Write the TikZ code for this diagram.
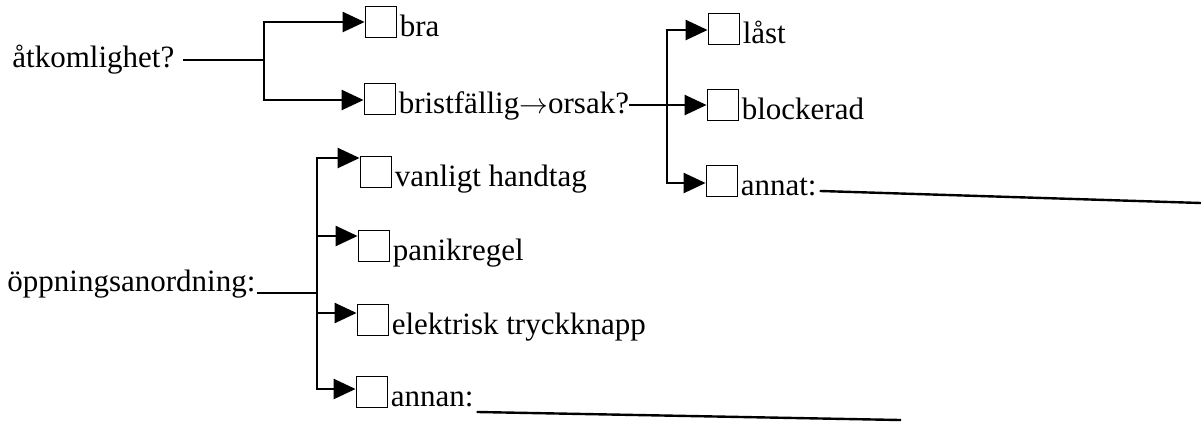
\documentclass[tikz,border=0pt]{standalone}
\usepackage{fontspec}
\setmainfont{Liberation Serif}
\usetikzlibrary{arrows.meta, positioning}

\begin{document}
\begin{tikzpicture}[
  x=0.5pt, y=-0.5pt,
  font=\fontsize{15.5pt}{18pt}\selectfont,
  box/.style={rectangle, draw, line width=0.9pt, minimum size=15.5pt, inner sep=0pt},
  txt/.style={inner sep=0pt, text height=14pt, text depth=0pt},
  conn/.style={line width=1.2pt, line cap=rect},
  arr/.style={line width=1.2pt, -{Triangle[length=11pt, width=10pt]}}
]
\useasboundingbox (0,0) rectangle (1201,425);

% åtkomlighet
\node[anchor=base west, inner sep=0pt] (atk) at (12,67) {åtkomlighet?};
\coordinate (g1) at (264,60);
\coordinate (g1up) at (264,22);
\coordinate (g1dn) at (264,100);
\node[box] (cbra) at (381,22) {};
\node[box] (cbrist) at (380,99) {};
\node[txt, right=1pt of cbra] (bra) {bra};
\node[txt, right=1pt of cbrist] (brist) {bristfällig\ensuremath{\rightarrow}orsak?};

% orsak
\coordinate (g2up) at (667,30);
\coordinate (g2dn) at (667,183);
\node[box] (clast) at (724,29) {};
\node[box] (cblock) at (723,105) {};
\node[box] (cannat) at (722,181) {};
\node[txt, right=1pt of clast] (last) {låst};
\node[txt, right=1pt of cblock] (block) {blockerad};
\node[txt, right=1pt of cannat] (annat) {annat:};
\coordinate (annatend) at (1201,203);

% öppningsanordning
\node[anchor=base west, inner sep=0pt] (oppn) at (7,291) {öppningsanordning:};
\coordinate (g3) at (317,293);
\coordinate (g3a) at (317,158);
\coordinate (g3b) at (317,236);
\coordinate (g3c) at (317,313);
\coordinate (g3d) at (317,389);
\node[box] (cvanl) at (376,172) {};
\node[box] (cpanik) at (374,246) {};
\node[box] (celekt) at (373,320) {};
\node[box] (cannan) at (372,392) {};
\node[txt, right=1pt of cvanl] (vanl) {vanligt handtag};
\node[txt, right=1pt of cpanik] (panik) {panikregel};
\node[txt, right=1pt of celekt] (elekt) {elektrisk tryckknapp};
\node[txt, right=1pt of cannan] (annan) {annan:};
\coordinate (annanend) at (900,420);

% Connessioni
\draw[conn] ([xshift=5pt]atk.base east |- g1) -- (g1);
\draw[conn] (g1up) -- (g1dn);
\draw[arr] (g1up) -- (g1up -| cbra.west);
\draw[arr] (g1dn) -- (g1dn -| cbrist.west);

\draw[conn] (g2up) -- (g2dn);
\draw[arr] (g2up) -- (g2up -| clast.west);
\draw[arr] (brist.east |- cblock) -- (cblock.west);
\draw[arr] (g2dn) -- (g2dn -| cannat.west);
\draw[conn] ([xshift=2pt, yshift=2pt]annat.base east) -- (annatend);

\draw[conn] ([xshift=1pt]oppn.base east |- g3) -- (g3);
\draw[conn] (g3a) -- (g3d);
\draw[arr] (g3a) -- (g3a -| cvanl.west);
\draw[arr] (g3b) -- (g3b -| cpanik.west);
\draw[arr] (g3c) -- (g3c -| celekt.west);
\draw[arr] (g3d) -- (g3d -| cannan.west);
\draw[conn] ([xshift=2pt, yshift=-3pt]annan.base east) -- (annanend);

\end{tikzpicture}
\end{document}
